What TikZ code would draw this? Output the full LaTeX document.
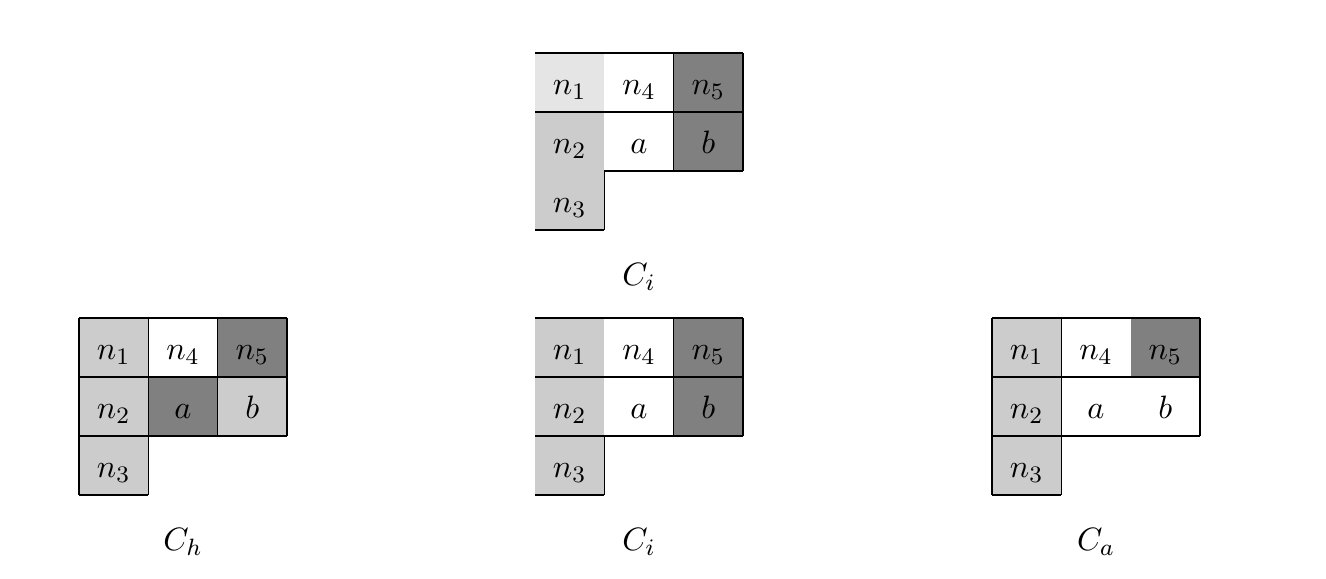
\documentclass[tikz,border=0pt]{standalone}
\tikzset{
  cell/.style={inner sep=0pt, outer sep=0pt, minimum width=0.8247cm, minimum height=0.7021cm,
    font=\fontsize{11}{13}\selectfont, text height=8.4pt, text depth=0pt},
  lite/.style={cell, fill=black!10},
  mid/.style={cell, fill=black!20},
  dark/.style={cell, fill=black!50},
  blank/.style={cell},
  rule/.style={line width=0.4pt},
  caption/.style={font=\fontsize{11}{13}\selectfont}
}
\begin{document}
\begin{tikzpicture}[x=0.0119cm, y=-0.0119cm]
  \useasboundingbox (0,0) rectangle (1326,579);
  % top C_i
  \node[lite]  (tn1) at (569.7,82.5)  {$n_1$};
  \node[blank] (tn4) at (639.0,82.5)  {$n_4$};
  \node[dark]  (tn5) at (708.3,82.5)  {$n_5$};
  \node[mid]   (tn2) at (569.7,141.5) {$n_2$};
  \node[blank] (ta)  at (639.0,141.5) {$a$};
  \node[dark]  (tb)  at (708.3,141.5) {$b$};
  \node[mid]   (tn3) at (569.7,200.5) {$n_3$};
  \draw[rule] (tn1.north west) -- (tn5.north east);
  \draw[rule] (tn1.south west) -- (tn5.south east);
  \draw[rule] (tn5.north west) -- (tb.south west);
  \draw[rule] (tn5.north east) -- (tb.south east);
  \draw[rule] (ta.south west) -- (tb.south east);
  \draw[rule] (tn3.north east) -- (tn3.south east);
  \draw[rule] (tn3.south west) -- (tn3.south east);
  \node[caption] (tlab) at (639.0,277) {$C_i$};

  % C_h
  \node[mid]   (hn1) at (113.7,347.5) {$n_1$};
  \node[blank] (hn4) at (183.0,347.5) {$n_4$};
  \node[dark]  (hn5) at (252.3,347.5) {$n_5$};
  \node[mid]   (hn2) at (113.7,406.5) {$n_2$};
  \node[dark]  (ha)  at (183.0,406.5) {$a$};
  \node[mid]   (hb)  at (252.3,406.5) {$b$};
  \node[mid]   (hn3) at (113.7,465.5) {$n_3$};
  \draw[rule] (hn1.north west) -- (hn3.south west);
  \draw[rule] (hn1.north west) -- (hn5.north east);
  \draw[rule] (hn1.south west) -- (hn5.south east);
  \draw[rule] (hn2.south west) -- (hb.south east);
  \draw[rule] (hn1.north east) -- (hn3.south east);
  \draw[rule] (hn5.north west) -- (hb.south west);
  \draw[rule] (hn5.north east) -- (hb.south east);
  \draw[rule] (hn3.south west) -- (hn3.south east);
  \node[caption] (hlab) at (183.0,542) {$C_h$};

  % bottom C_i
  \node[mid]   (in1) at (569.7,347.5) {$n_1$};
  \node[blank] (in4) at (639.0,347.5) {$n_4$};
  \node[dark]  (in5) at (708.3,347.5) {$n_5$};
  \node[mid]   (in2) at (569.7,406.5) {$n_2$};
  \node[blank] (ia)  at (639.0,406.5) {$a$};
  \node[dark]  (ib)  at (708.3,406.5) {$b$};
  \node[mid]   (in3) at (569.7,465.5) {$n_3$};
  \draw[rule] (in1.north west) -- (in5.north east);
  \draw[rule] (in1.south west) -- (in5.south east);
  \draw[rule] (in5.north west) -- (ib.south west);
  \draw[rule] (in5.north east) -- (ib.south east);
  \draw[rule] (in2.south west) -- (ib.south east);
  \draw[rule] (in3.north east) -- (in3.south east);
  \draw[rule] (in3.south west) -- (in3.south east);
  \node[caption] (ilab) at (639.0,542) {$C_i$};

  % C_a
  \node[mid]   (an1) at (1026.7,347.5) {$n_1$};
  \node[blank] (an4) at (1096.0,347.5) {$n_4$};
  \node[dark]  (an5) at (1165.3,347.5) {$n_5$};
  \node[mid]   (an2) at (1026.7,406.5) {$n_2$};
  \node[blank] (aa)  at (1096.0,406.5) {$a$};
  \node[blank] (ab)  at (1165.3,406.5) {$b$};
  \node[mid]   (an3) at (1026.7,465.5) {$n_3$};
  \draw[rule] (an1.north west) -- (an3.south west);
  \draw[rule] (an1.north west) -- (an5.north east);
  \draw[rule] (an1.south west) -- (an5.south east);
  \draw[rule] (an2.south west) -- (ab.south east);
  \draw[rule] (an1.north east) -- (an3.south east);
  \draw[rule] (an5.north east) -- (ab.south east);
  \draw[rule] (an3.south west) -- (an3.south east);
  \node[caption] (alab) at (1096.0,542) {$C_a$};
\end{tikzpicture}
\end{document}
